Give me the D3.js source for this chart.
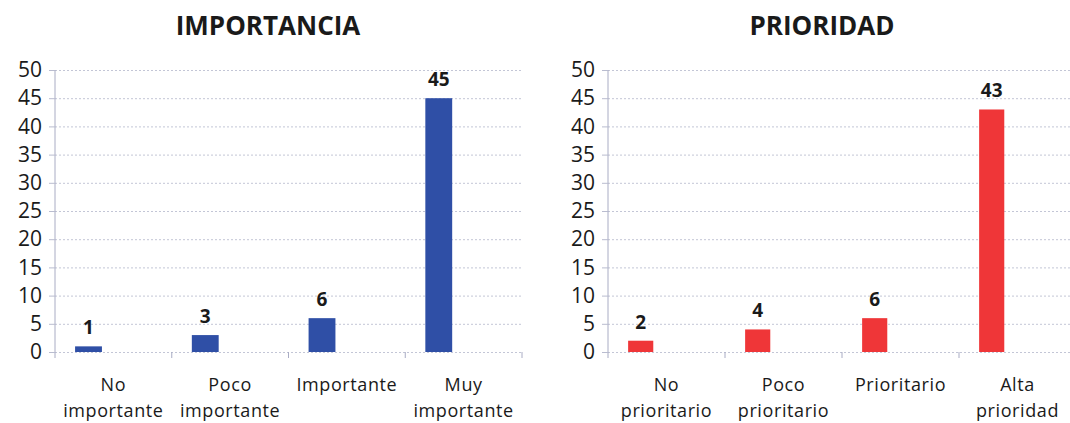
<!DOCTYPE html>
<html>
<head>
<meta charset="utf-8">
<script src="https://cdn.jsdelivr.net/npm/d3@7/dist/d3.min.js"></script>
<style>
  html, body { margin: 0; padding: 0; background: #fff; }
  svg { display: block; }
  text { font-family: "Open Sans", Lato, sans-serif; fill: #1a1a1a; }
</style>
</head>
<body>
<svg id="chart" width="1070" height="423"></svg>
<script>
// Survey results: importance and priority ratings
const importanciaCats = [["No", "importante"], ["Poco", "importante"], ["Importante"], ["Muy", "importante"]];
const importanciaVals = [1, 3, 6, 45];
const prioridadCats = [["No", "prioritario"], ["Poco", "prioritario"], ["Prioritario"], ["Alta", "prioridad"]];
const prioridadVals = [2, 4, 6, 43];
const yTicks = [0, 5, 10, 15, 20, 25, 30, 35, 40, 45, 50];

const svg = d3.select("#chart");

function drawPanel(opts) {
  const { title, titleX, cats, vals, color, x0, x1, barWidthFrac } = opts;
  const top = 70, bottom = 352;
  const keys = cats.map(c => c.join(" "));
  const x = d3.scaleBand().domain(keys).range([x0, x1]).padding(0);
  const y = d3.scaleLinear().domain([0, 50]).range([bottom, top]);
  const g = svg.append("g");

  // horizontal gridlines
  const grid = g.append("g")
    .attr("transform", `translate(${x0},0)`)
    .call(d3.axisLeft(y).tickValues(yTicks).tickSize(-(x1 - x0)).tickFormat(""));
  grid.select(".domain").remove();
  grid.selectAll(".tick line")
    .attr("stroke", "#c3c6d6")
    .attr("stroke-dasharray", "2,2");

  // y axis with labels
  const ya = g.append("g")
    .attr("transform", `translate(${x0},0)`)
    .call(d3.axisLeft(y).tickValues(yTicks).tickSize(6).tickPadding(7));
  ya.select(".domain").attr("stroke", "#a9acc4").attr("d", `M0,${top}V${bottom + 6}`);
  ya.selectAll(".tick line").attr("stroke", "#b9bccf");
  ya.selectAll(".tick text")
    .style("font-size", "21px")
    .style("font-family", "'Open Sans', sans-serif")
    .attr("fill", "#1a1a1a");

  // category boundary ticks along the baseline
  g.append("g").selectAll("line")
    .data(keys.slice(1).concat([null]))
    .join("line")
    .attr("x1", d => d === null ? x1 : x(d))
    .attr("x2", d => d === null ? x1 : x(d))
    .attr("y1", bottom)
    .attr("y2", bottom + 6)
    .attr("stroke", "#a9acc4");

  // bars
  const bw = x.bandwidth();
  const off = bw * 0.172;
  const w = bw * barWidthFrac;
  g.append("g").selectAll("rect")
    .data(vals)
    .join("rect")
    .attr("x", (d, i) => x(keys[i]) + off)
    .attr("y", d => y(d))
    .attr("width", w)
    .attr("height", d => bottom - y(d))
    .attr("fill", color);

  // value labels
  g.append("g").selectAll("text")
    .data(vals)
    .join("text")
    .attr("x", (d, i) => x(keys[i]) + off + w / 2)
    .attr("y", d => y(d) - 12)
    .attr("text-anchor", "middle")
    .style("font-size", "19px")
    .style("font-weight", "bold")
    .text(d => d);

  // category labels (wrapped)
  const lbl = g.append("g").selectAll("text")
    .data(cats)
    .join("text")
    .attr("text-anchor", "middle")
    .style("font-size", "18px")
    .style("letter-spacing", "0.6px");
  lbl.each(function(lines, i) {
    const t = d3.select(this);
    lines.forEach((ln, j) => {
      t.append("tspan")
        .attr("x", x(keys[i]) + bw / 2)
        .attr("y", 391 + j * 26)
        .text(ln);
    });
  });

  // title
  svg.append("text")
    .attr("x", titleX)
    .attr("y", 35)
    .attr("text-anchor", "middle")
    .style("font-size", "26px")
    .style("font-weight", "bold")
    .text(title);
}

drawPanel({
  title: "IMPORTANCIA", titleX: 268,
  cats: importanciaCats, vals: importanciaVals,
  color: "#2f4fa6", x0: 55, x1: 522, barWidthFrac: 0.23
});
drawPanel({
  title: "PRIORIDAD", titleX: 822,
  cats: prioridadCats, vals: prioridadVals,
  color: "#ef3638", x0: 608, x1: 1076, barWidthFrac: 0.215
});
</script>
</body>
</html>
